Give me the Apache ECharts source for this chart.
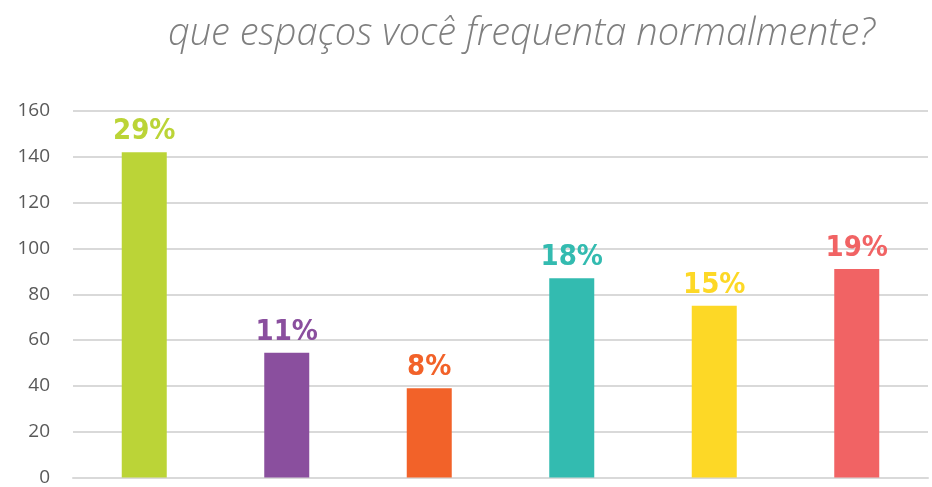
<!DOCTYPE html>
<html>
<head>
<meta charset="utf-8">
<script src="https://cdn.jsdelivr.net/npm/echarts@6/dist/echarts.min.js"></script>
<style>
  html, body { margin: 0; padding: 0; background: #fff; }
  #chart { width: 932px; height: 487px; }
</style>
</head>
<body>
<div id="chart"></div>
<script>
// ==================================================
// dados
var categorias = ['1', '2', '3', '4', '5', '6'];
var valores = [142, 54.5, 39, 87, 75, 91];
var percentuais = ['29%', '11%', '8%', '18%', '15%', '19%'];
var cores = ['#BBD437', '#8A4F9E', '#F26229', '#33BBB0', '#FDD826', '#F16364'];
var yTicks = [0, 20, 40, 60, 80, 100, 120, 140, 160];

var chart = echarts.init(document.getElementById('chart'));

chart.setOption({
  animation: false,
  title: {
    text: 'que espaços você frequenta normalmente?',
    left: 163,
    top: 10,
    textStyle: {
      fontFamily: 'Open Sans',
      fontStyle: 'italic',
      fontWeight: 300,
      fontSize: 38,
      color: '#7f7f7f'
    }
  },
  grid: { left: 73, right: 4, top: 111, bottom: 7 },
  xAxis: {
    type: 'category',
    data: categorias,
    axisLine: { lineStyle: { color: '#d9d9d9', width: 2 } },
    axisTick: { show: false },
    axisLabel: { show: false }
  },
  yAxis: {
    type: 'value',
    min: yTicks[0],
    max: yTicks[yTicks.length - 1],
    interval: 20,
    axisLine: { show: false },
    axisTick: { show: false },
    axisLabel: {
      margin: 23,
      fontFamily: 'Open Sans',
      fontSize: 19,
      color: '#595959'
    },
    splitLine: { lineStyle: { color: '#d9d9d9', width: 2 } }
  },
  series: [{
    type: 'bar',
    barWidth: 45,
    data: valores.map(function (v, i) {
      return {
        value: v,
        itemStyle: { color: cores[i] },
        label: { color: cores[i] }
      };
    }),
    label: {
      show: true,
      position: 'top',
      distance: 6,
      formatter: function (p) { return percentuais[p.dataIndex]; },
      fontFamily: '"DejaVu Sans Condensed", "DejaVu Sans", sans-serif',
      fontWeight: 'bold',
      fontSize: 29
    }
  }]
});
</script>
</body>
</html>
